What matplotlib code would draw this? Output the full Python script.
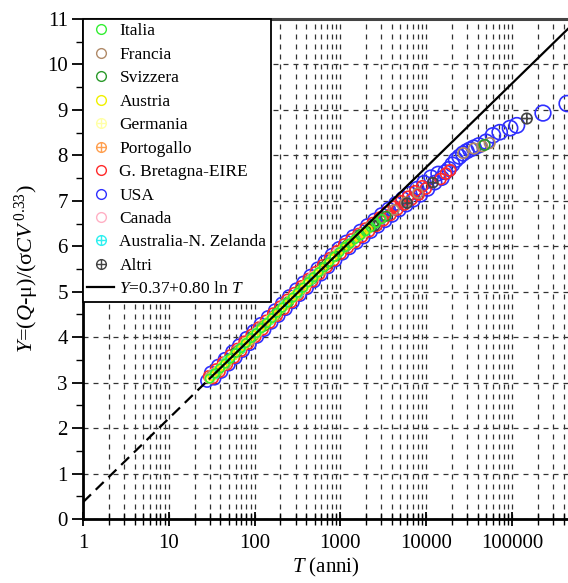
import numpy as np
import matplotlib
matplotlib.use("Agg")
import matplotlib.pyplot as plt
from matplotlib.path import Path
from matplotlib.lines import Line2D
from matplotlib.ticker import LogLocator, NullFormatter, FixedLocator

plt.rcParams['font.family'] = ['Liberation Serif', 'DejaVu Serif']
plt.rcParams['mathtext.fontset'] = 'custom'
plt.rcParams['mathtext.rm'] = 'Liberation Serif'
plt.rcParams['mathtext.it'] = 'Liberation Serif:italic'

# ---------------- data ----------------
usa_T = [28, 31, 34, 37.5, 41, 45, 50, 55, 60, 66, 73, 80, 88, 97, 107, 118, 130, 143, 157, 173,
         190, 209, 230, 253, 278, 306, 337, 370, 407, 448, 493, 542, 596, 656, 722, 794, 873, 960,
         1056, 1162, 1278, 1406, 1547, 1700, 1870, 2057, 2263, 2490, 2740, 3010, 3310, 3640, 4000,
         4400, 4840, 5320, 5850, 6440, 7080, 7790, 8570, 9430, 10370, 11400, 12550, 13800, 15200,
         16700, 18400, 20200, 22200, 24400, 26900, 29600, 32500, 35800, 41000, 50000, 60000, 72000,
         95000, 114000, 230000, 440000]
usa_Y = [3.04, 3.22, 3.09, 3.37, 3.24, 3.52, 3.40, 3.68, 3.55, 3.82, 3.70, 3.98, 3.85, 4.13, 4.01,
         4.29, 4.16, 4.44, 4.32, 4.59, 4.47, 4.74, 4.62, 4.90, 4.77, 5.05, 4.93, 5.20, 5.08, 5.35,
         5.23, 5.51, 5.38, 5.66, 5.54, 5.81, 5.69, 5.96, 5.84, 6.10, 5.96, 6.22, 6.08, 6.34, 6.20,
         6.46, 6.32, 6.58, 6.44, 6.70, 6.56, 6.82, 6.68, 6.94, 6.80, 7.05, 6.91, 7.16, 7.02, 7.27,
         7.13, 7.40, 7.26, 7.52, 7.40, 7.60, 7.50, 7.63, 7.70, 7.80, 7.90, 7.97, 8.04, 8.09, 8.13,
         8.17, 8.22, 8.30, 8.44, 8.51, 8.60, 8.66, 8.93, 9.14]

gb_T = [29.5, 32.5, 35.7, 39, 43, 47.5, 52.5, 57.5, 63, 69.5, 76.5, 84, 92.5, 102, 112, 124, 136,
        150, 165, 181, 199, 219, 241, 265, 292, 321, 353, 388, 427, 470, 517, 569, 626, 689, 758,
        833, 916, 1008, 1109, 1220, 1342, 1476, 1624, 1786, 1965, 2160, 2376, 2614, 2875, 3160,
        3480, 3830, 4200, 4620, 5080, 5590, 6150, 6760, 7440, 8180, 9000, 9900, 14700, 17000, 19000]
gb_Y = [3.14, 3.10, 3.29, 3.24, 3.44, 3.40, 3.60, 3.55, 3.74, 3.70, 3.90, 3.86, 4.05, 4.01, 4.21,
        4.17, 4.36, 4.32, 4.52, 4.47, 4.67, 4.62, 4.82, 4.77, 4.97, 4.93, 5.12, 5.08, 5.28, 5.23,
        5.43, 5.39, 5.58, 5.54, 5.74, 5.69, 5.89, 5.84, 6.04, 5.97, 6.15, 6.09, 6.27, 6.21, 6.39,
        6.33, 6.51, 6.45, 6.63, 6.57, 6.75, 6.69, 6.87, 6.81, 6.99, 6.92, 7.09, 7.03, 7.21, 7.14,
        7.32, 7.27, 7.48, 7.60, 7.67]

canada_T = [33, 46, 65, 92, 128, 178, 248, 345, 480, 670, 930, 1300, 1800]
canada_Y = [3.19, 3.41, 3.73, 3.97, 4.27, 4.50, 4.80, 5.02, 5.33, 5.56, 5.86, 6.06, 6.28]

francia_T = [32, 45, 62, 88, 120, 170, 230, 320, 440, 600, 830, 1150, 1600, 2200, 3000, 4200,
             5800, 8000, 27000, 36000, 45000, 55000]
francia_Y = [3.16, 3.40, 3.69, 3.93, 4.22, 4.46, 4.74, 4.96, 5.26, 5.47, 5.77, 5.99, 6.22, 6.42,
             6.60, 6.80, 6.97, 7.17, 8.05, 8.15, 8.20, 8.27]

svizzera_T = [35, 50, 68, 95, 130, 180, 250, 340, 470, 640, 880, 1200, 1700, 2400, 3400, 48000]
svizzera_Y = [3.20, 3.51, 3.74, 4.02, 4.25, 4.53, 4.78, 5.04, 5.28, 5.55, 5.78, 6.03, 6.26, 6.47,
              6.66, 8.23]

altri_T = [60, 200, 700, 2500, 6000, 12000, 149000]
altri_Y = [3.65, 4.61, 5.61, 6.45, 6.95, 7.40, 8.81]

australia_T = [34, 48, 70, 105, 150, 220, 320, 460]
australia_Y = [3.18, 3.48, 3.76, 4.10, 4.37, 4.70, 4.97, 5.28]

portogallo_T = [30, 37, 47, 60, 78, 100, 130, 170, 220, 290, 380, 500]
portogallo_Y = [3.10, 3.25, 3.46, 3.64, 3.87, 4.04, 4.27, 4.47, 4.70, 4.90, 5.13, 5.33]

germania_T = [31, 42, 58, 80, 110, 150, 210, 290, 400, 560, 780]
germania_Y = [3.11, 3.37, 3.61, 3.89, 4.12, 4.39, 4.64, 4.92, 5.15, 5.44, 5.69]

italia_T = [30, 34.5, 39.5, 45.5, 52, 60, 69, 79, 91, 105, 120, 138, 159, 183, 210, 242, 278,
            320, 368, 423, 486, 559, 643, 740, 851, 978, 1125, 1294, 1488, 1711, 1968, 2263,
            2600, 3000]
italia_Y = [3.09, 3.20, 3.31, 3.42, 3.53, 3.65, 3.76, 3.87, 3.98, 4.09, 4.20, 4.31, 4.42, 4.54,
            4.65, 4.76, 4.87, 4.98, 5.09, 5.21, 5.32, 5.43, 5.54, 5.65, 5.77, 5.87, 5.98, 6.06,
            6.16, 6.24, 6.33, 6.42, 6.51, 6.60]

austria_T = [32, 37, 42.5, 49, 56, 64.5, 74, 85, 98, 113, 130, 149, 171, 197, 227, 261, 300, 345,
             397, 456, 525, 603, 694, 798, 918, 1055, 1213, 1395, 1605, 1845, 2100]
austria_Y = [3.14, 3.26, 3.37, 3.48, 3.59, 3.70, 3.81, 3.92, 4.04, 4.15, 4.26, 4.37, 4.48, 4.60,
             4.71, 4.82, 4.93, 5.04, 5.16, 5.27, 5.38, 5.49, 5.60, 5.72, 5.83, 5.94, 6.03, 6.11,
             6.20, 6.29, 6.37]

fit_a, fit_b = 0.37, 0.80          # Y = 0.37 + 0.80 ln T
fit_T_split = 30                   # dashed below, solid above

x_ticks = [1, 10, 100, 1000, 10000, 100000]
x_ticklabels = ['1', '10', '100', '1000', '10000', '100000']
y_ticks = list(range(0, 12))

# ---------------- styling ----------------
circ = Path.unit_circle()
cross = Path([(-1, 0), (1, 0), (0, -1), (0, 1)],
             [Path.MOVETO, Path.LINETO, Path.MOVETO, Path.LINETO])
oplus = Path.make_compound_path(circ, cross)

series = [
    ('Italia', italia_T, italia_Y, '#33ee33', 'o'),
    ('Francia', francia_T, francia_Y, '#b08a68', 'o'),
    ('Svizzera', svizzera_T, svizzera_Y, '#2a9a2a', 'o'),
    ('Austria', austria_T, austria_Y, '#f0f000', 'o'),
    ('Germania', germania_T, germania_Y, '#ffffa8', oplus),
    ('Portogallo', portogallo_T, portogallo_Y, '#ffa050', oplus),
    ('G. Bretagna-EIRE', gb_T, gb_Y, '#ff2a2a', 'o'),
    ('USA', usa_T, usa_Y, '#2f2fff', 'o'),
    ('Canada', canada_T, canada_Y, '#ffb0c4', 'o'),
    ('Australia-N. Zelanda', australia_T, australia_Y, '#30f0f0', oplus),
    ('Altri', altri_T, altri_Y, '#444444', oplus),
]
draw_order = ['USA', 'G. Bretagna-EIRE', 'Canada', 'Portogallo', 'Francia', 'Svizzera', 'Altri',
              'Australia-N. Zelanda', 'Germania', 'Austria', 'Italia']
diam_px = {'G. Bretagna-EIRE': 11, 'Canada': 10, 'Portogallo': 10, 'Francia': 10,
           'Svizzera': 9.5, 'Altri': 10, 'Australia-N. Zelanda': 9, 'Germania': 8.5,
           'Austria': 8, 'Italia': 8.5}

fig = plt.figure(figsize=(5.68, 5.83), dpi=100)
ax = fig.add_axes([83/568, 1-519/583, 1-83/568, (519-19)/583])

lookup = {s[0]: s for s in series}
for z, name in enumerate(draw_order):
    lab, T, Y, col, mk = lookup[name]
    T = np.asarray(T, float)
    Yv = np.asarray(Y, float)
    if name == 'USA':
        d = np.interp(np.log10(T), [0, 3.2, 4.3, 5.7], [12.5, 12.5, 14.5, 16])
    else:
        d = np.full(T.shape, diam_px[name], float)
        if name in ('Francia', 'Svizzera', 'Altri'):
            d = np.where(T > 20000, 10.5, d)
    s = (d / 1.389) ** 2
    ax.scatter(T, Yv, s=s, marker=mk, facecolors='none', edgecolors=col,
               linewidths=1.2, zorder=2 + z * 0.01)

xmin, xmax = 1, 4.5e5
Td = np.array([xmin, fit_T_split])
Ts = np.array([fit_T_split, xmax])
ax.plot(Td, fit_a + fit_b * np.log(Td), color='k', lw=1.6, ls=(0, (5, 3)), zorder=3)
ax.plot(Ts, fit_a + fit_b * np.log(Ts), color='k', lw=1.6, zorder=3)

ax.set_xscale('log')
ax.set_xlim(xmin, xmax)
ax.set_ylim(0, 11)
ax.xaxis.set_major_locator(FixedLocator(x_ticks))
ax.set_xticklabels(x_ticklabels)
ax.xaxis.set_minor_locator(LogLocator(base=10, subs=np.arange(2, 10), numticks=50))
ax.xaxis.set_minor_formatter(NullFormatter())
ax.set_yticks(y_ticks)
ax.set_yticks(np.arange(0.5, 11, 1.0), minor=True)

ax.grid(which='both', axis='x', color='#333333', lw=0.9, ls=(0, (4, 4)), zorder=1)
ax.grid(which='major', axis='y', color='#333333', lw=0.9, ls=(0, (4, 4)), zorder=1)
ax.set_axisbelow(True)

ax.tick_params(axis='x', which='major', direction='inout', length=10, width=1.3,
               labelsize=15, pad=6)
ax.tick_params(axis='x', which='minor', direction='inout', length=8, width=1.0)
ax.tick_params(axis='y', which='major', direction='out', length=8, width=1.3,
               labelsize=15, pad=3)
ax.tick_params(axis='y', which='minor', direction='out', length=5, width=1.0)

ax.spines['right'].set_visible(False)
ax.spines['left'].set_linewidth(2.0)
ax.spines['bottom'].set_linewidth(2.0)
ax.spines['top'].set_linewidth(2.2)
ax.spines['top'].set_color('#444444')

ax.set_xlabel(r'$T$ (anni)', fontsize=15, labelpad=2)
ax.set_ylabel(r'$Y$=($Q$-μ)/(σ$CV^{\,0.33}$)', fontsize=16, labelpad=4)

handles = []
for lab, T, Y, col, mk in series:
    handles.append(Line2D([], [], ls='none', marker=mk, markersize=7.0,
                          markerfacecolor='none', markeredgecolor=col,
                          markeredgewidth=1.0, label=lab))
handles.append(Line2D([], [], color='k', lw=1.6, label=r'$Y$=0.37+0.80 ln $T$'))
leg = ax.legend(handles=handles, loc='upper left', borderaxespad=0, fontsize=12.5,
                frameon=True, fancybox=False, framealpha=1, edgecolor='k',
                labelspacing=0.42, handlelength=1.55, handletextpad=0.3,
                borderpad=0.25)
leg.get_frame().set_linewidth(1.3)
leg.set_zorder(10)

fig.savefig('out.png', dpi=100)
